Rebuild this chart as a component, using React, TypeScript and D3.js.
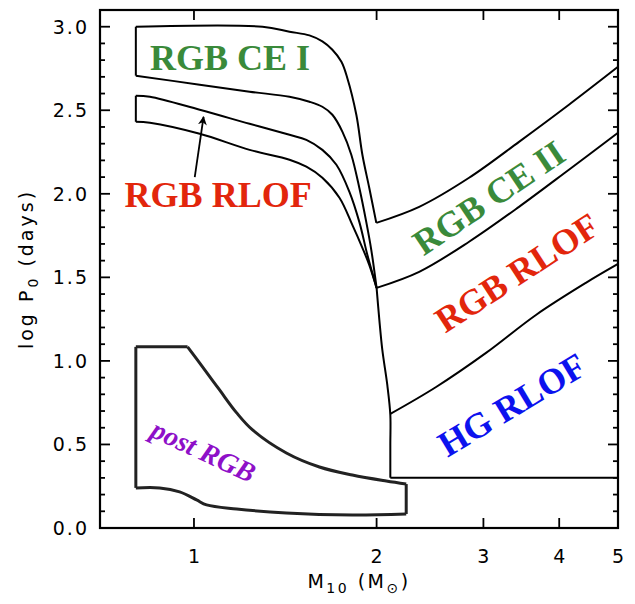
import React, { useRef, useEffect } from 'react';
import * as d3 from 'd3';

type Pt = [number, number];

// tick values
const massTicks = [1, 2, 3, 4, 5];
const logPMajor = [0, 0.5, 1, 1.5, 2, 2.5, 3];
const logPMinor = d3.range(0, 31).map(d => d / 10);

// region boundaries as [M10, log P0]
const ce1Left: Pt[] = [[0.802, 2.707], [0.802, 3.0]];
const ce1Top: Pt[] = [
  [0.802, 3.0], [1.297, 3.0], [1.437, 2.97], [1.55, 2.948], [1.628, 2.912], [1.691, 2.862],
  [1.75, 2.79], [1.789, 2.695], [1.852, 2.473], [1.895, 2.234], [1.945, 2.036], [1.998, 1.826],
];
const ce2Bottom: Pt[] = [
  [1.998, 1.826], [2.351, 1.922], [2.841, 2.096], [3.434, 2.311], [4.15, 2.533], [5.0, 2.76],
];
const ce1Bottom: Pt[] = [
  [0.802, 2.707], [1.022, 2.653], [1.235, 2.611], [1.437, 2.581], [1.55, 2.551], [1.628, 2.521],
  [1.691, 2.473], [1.757, 2.371], [1.817, 2.234], [1.873, 2.036], [1.923, 1.832], [1.96, 1.665], [2.0, 1.437],
];
const rlofLeft: Pt[] = [[0.802, 2.431], [0.802, 2.587]];
const rlofTop: Pt[] = [
  [0.802, 2.587], [0.846, 2.581], [1.022, 2.503], [1.235, 2.419], [1.437, 2.353], [1.532, 2.323],
  [1.628, 2.263], [1.717, 2.174], [1.804, 2.012], [1.873, 1.832], [1.931, 1.635], [2.0, 1.437],
];
const rlofBottom: Pt[] = [
  [0.802, 2.431], [0.846, 2.425], [1.022, 2.359], [1.235, 2.263], [1.437, 2.204], [1.532, 2.162],
  [1.628, 2.096], [1.737, 1.976], [1.824, 1.814], [1.895, 1.677], [1.945, 1.575], [2.0, 1.437],
];
const hgLeft: Pt[] = [
  [2.0, 1.437], [2.021, 1.246], [2.044, 1.066], [2.083, 0.856], [2.107, 0.677], [2.107, 0.5], [2.107, 0.3],
];
const rgbRlofTop: Pt[] = [
  [2.0, 1.437], [2.351, 1.533], [2.841, 1.713], [3.434, 1.922], [4.15, 2.144], [5.0, 2.365],
];
const hgTop: Pt[] = [
  [2.107, 0.683], [2.507, 0.844], [3.03, 1.048], [3.662, 1.275], [4.426, 1.467], [5.0, 1.58],
];
const hgBottom: Pt[] = [[2.107, 0.3], [5.0, 0.3]];

const postFlat: Pt[] = [[0.802, 1.084], [0.976, 1.084]];
const postTop: Pt[] = [
  [0.976, 1.084], [1.033, 0.964], [1.102, 0.826], [1.176, 0.689], [1.249, 0.587],
  [1.42, 0.449], [1.61, 0.365], [1.824, 0.317], [2.075, 0.281], [2.238, 0.263],
];
const postRight: Pt[] = [[2.238, 0.263], [2.238, 0.084]];
const postBottom: Pt[] = [
  [2.238, 0.084], [1.824, 0.078], [1.42, 0.09], [1.176, 0.114], [1.049, 0.138],
  [1.01, 0.168], [0.947, 0.216], [0.878, 0.24], [0.802, 0.24],
];
const postLeft: Pt[] = [[0.802, 0.24], [0.802, 1.084]];

const arrowFrom: Pt = [1.003, 2.1];
const arrowTo: Pt = [1.037, 2.46];

const labels = [
  { text: 'RGB CE I', at: [1.147, 2.743], angle: 0, color: '#3a8a3a', italic: false, mid: false },
  { text: 'RGB RLOF', at: [1.096, 1.922], angle: 0, color: '#e2260c', italic: false, mid: false },
  { text: 'RGB CE II', at: [3.064, 1.976], angle: -34, color: '#3a8a3a', italic: false, mid: true },
  { text: 'RGB RLOF', at: [3.408, 1.527], angle: -33, color: '#e2260c', italic: false, mid: true },
  { text: 'HG RLOF', at: [3.344, 0.737], angle: -31, color: '#0c12ee', italic: false, mid: true },
  { text: 'post RGB', at: [1.037, 0.461], angle: 25, color: '#8e10c8', italic: true, mid: true },
];

const W = 635;
const H = 604;
const margin = { left: 100, right: 17, top: 10, bottom: 76 };

const Chart = () => {
  const svgRef = useRef<SVGSVGElement>(null);

  useEffect(() => {
    const svg = d3.select(svgRef.current);
    svg.selectAll('*').remove();

    const x = d3.scaleLog().domain([0.7, 5]).range([margin.left, W - margin.right]);
    const y = d3.scaleLinear().domain([0, 3.1]).range([H - margin.bottom, margin.top]);
    const [x0, x1] = x.range();
    const [y0, y1] = y.range();

    const mkLine = (curve: d3.CurveFactory) =>
      d3.line<Pt>().x(d => x(d[0])).y(d => y(d[1])).curve(curve);

    const smooth = mkLine(d3.curveCatmullRom.alpha(0.5));
    const straight = mkLine(d3.curveLinear);

    // curves
    const g = svg.append('g').attr('fill', 'none').attr('stroke', '#000').attr('stroke-width', 2)
      .attr('stroke-linejoin', 'round');
    [ce1Left, rlofLeft, hgBottom].forEach(p => g.append('path').attr('d', straight(p)));
    [ce1Top, ce2Bottom, ce1Bottom, rlofTop, rlofBottom, hgLeft, rgbRlofTop, hgTop]
      .forEach(p => g.append('path').attr('d', smooth(p)));

    const pg = svg.append('g').attr('fill', 'none').attr('stroke', '#222').attr('stroke-width', 3)
      .attr('stroke-linejoin', 'miter');
    [postFlat, postRight, postLeft].forEach(p => pg.append('path').attr('d', straight(p)));
    [postTop, postBottom].forEach(p => pg.append('path').attr('d', smooth(p)));

    // arrow
    svg.append('defs').append('marker')
      .attr('id', 'ah').attr('viewBox', '0 0 10 10').attr('refX', 9).attr('refY', 5)
      .attr('markerWidth', 5).attr('markerHeight', 5).attr('orient', 'auto')
      .append('path').attr('d', 'M0,0 L10,5 L0,10 L3,5 z').attr('fill', '#000');
    svg.append('line')
      .attr('x1', x(arrowFrom[0])).attr('y1', y(arrowFrom[1]))
      .attr('x2', x(arrowTo[0])).attr('y2', y(arrowTo[1]))
      .attr('stroke', '#000').attr('stroke-width', 1.8).attr('marker-end', 'url(#ah)');

    // labels
    svg.append('g').selectAll('text').data(labels).join('text')
      .attr('transform', d => `translate(${x(d.at[0])},${y(d.at[1])}) rotate(${d.angle})`)
      .attr('text-anchor', 'middle')
      .attr('dominant-baseline', d => (d.mid ? 'central' : 'auto'))
      .attr('font-family', '"Liberation Serif", "Times New Roman", serif')
      .attr('font-weight', 'bold')
      .attr('font-style', d => (d.italic ? 'italic' : 'normal'))
      .attr('font-size', d => (d.italic ? 28 : 36))
      .attr('fill', d => d.color)
      .text(d => d.text);

    // frame + ticks
    const ax = svg.append('g').attr('stroke', '#000');
    ax.append('rect').attr('x', x0).attr('y', y1).attr('width', x1 - x0).attr('height', y0 - y1)
      .attr('fill', 'none').attr('stroke-width', 2.2);

    const yTicks = ax.append('g').attr('stroke-width', 1.8);
    logPMinor.forEach(v => {
      const major = Math.abs(v * 2 - Math.round(v * 2)) < 1e-6;
      const len = major ? 10 : 5;
      yTicks.append('line').attr('x1', x0).attr('x2', x0 + len).attr('y1', y(v)).attr('y2', y(v));
      yTicks.append('line').attr('x1', x1).attr('x2', x1 - len).attr('y1', y(v)).attr('y2', y(v));
    });
    massTicks.filter(m => m < 5).forEach(m => {
      yTicks.append('line').attr('x1', x(m)).attr('x2', x(m)).attr('y1', y0).attr('y2', y0 - 10);
      yTicks.append('line').attr('x1', x(m)).attr('x2', x(m)).attr('y1', y1).attr('y2', y1 + 10);
    });

    const font = '"DejaVu Sans", sans-serif';
    svg.append('g').selectAll('text').data(logPMajor).join('text')
      .attr('x', x0 - 11).attr('y', d => y(d)).attr('dy', '0.36em')
      .attr('text-anchor', 'end').attr('font-family', font).attr('font-size', 19)
      .attr('letter-spacing', 2)
      .text(d => d3.format('.1f')(d));

    svg.append('g').selectAll('text').data(massTicks).join('text')
      .attr('x', d => x(d)).attr('y', y0 + 35)
      .attr('text-anchor', 'middle').attr('font-family', font).attr('font-size', 19)
      .text(d => d);

    const xt = svg.append('text')
      .attr('x', (x0 + x1) / 2).attr('y', y0 + 60)
      .attr('text-anchor', 'middle').attr('font-family', font).attr('font-size', 19)
      .attr('letter-spacing', 2.5);
    xt.append('tspan').text('M');
    xt.append('tspan').attr('font-size', 14).attr('dy', 5).text('10');
    xt.append('tspan').attr('dy', -5).text('\u00a0(M');
    xt.append('tspan').attr('font-size', 14).attr('dy', 5).text('\u2299');
    xt.append('tspan').attr('dy', -5).text(')');

    const yt = svg.append('text')
      .attr('transform', `translate(33,${(y0 + y1) / 2}) rotate(-90)`)
      .attr('text-anchor', 'middle').attr('font-family', font).attr('font-size', 19)
      .attr('letter-spacing', 3);
    yt.append('tspan').text('log\u00a0P');
    yt.append('tspan').attr('font-size', 14).attr('dy', 5).text('0');
    yt.append('tspan').attr('dy', -5).text('\u00a0(days)');
  }, []);

  return (
    <svg ref={svgRef} width={W} height={H}
      style={{ position: 'absolute', left: 0, top: 0, background: '#fff' }} />
  );
};

export default function App() {
  return <Chart />;
}
